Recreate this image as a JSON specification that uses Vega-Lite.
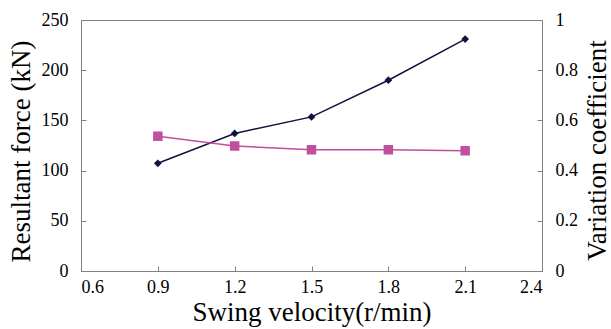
{
  "$schema": "https://vega.github.io/schema/vega-lite/v6.json",
  "autosize": {"type": "none"},
  "width": 461,
  "height": 251,
  "padding": {"left": 81, "top": 20, "right": 69, "bottom": 58},
  "background": "white",
  "config": {
    "font": "Liberation Serif",
    "view": {"stroke": "#808080", "strokeWidth": 1},
    "axis": {
      "domainColor": "#808080",
      "tickColor": "#808080",
      "labelColor": "black",
      "titleColor": "black",
      "labelFont": "Liberation Serif",
      "titleFont": "Liberation Serif",
      "labelFontSize": 18,
      "titleFontSize": 27,
      "titleFontWeight": "normal",
      "grid": false,
      "tickSize": -5
    }
  },
  "data": {
    "values": [
      {"v": 0.9, "force": 107.3, "cv": 0.537},
      {"v": 1.2, "force": 137, "cv": 0.498},
      {"v": 1.5, "force": 153.5, "cv": 0.483},
      {"v": 1.8, "force": 190, "cv": 0.483},
      {"v": 2.1, "force": 231, "cv": 0.479}
    ]
  },
  "encoding": {
    "x": {
      "field": "v", "type": "quantitative",
      "scale": {"domain": [0.6, 2.4], "nice": false, "zero": false},
      "axis": {"values": [0.6, 0.9, 1.2, 1.5, 1.8, 2.1, 2.4], "format": ".1f", "title": "Swing velocity(r/min)", "labelPadding": 12, "titleBaseline": "alphabetic", "titleY": 49}
    }
  },
  "layer": [
    {
      "mark": {"type": "line", "color": "#12123f", "strokeWidth": 1.5, "point": {"shape": "diamond", "size": 60, "filled": true, "color": "#12123f"}},
      "encoding": {
        "y": {
          "field": "force", "type": "quantitative",
          "scale": {"domain": [0, 250], "nice": false},
          "axis": {"values": [0, 50, 100, 150, 200, 250], "title": "Resultant force (kN)", "orient": "left", "labelPadding": 18, "titlePadding": 6, "titleY": 131}
        }
      }
    },
    {
      "mark": {"type": "line", "color": "#c0509f", "strokeWidth": 1.5, "point": {"shape": "square", "size": 90, "filled": true, "color": "#c0509f"}},
      "encoding": {
        "y": {
          "field": "cv", "type": "quantitative",
          "scale": {"domain": [0, 1], "nice": false},
          "axis": {"values": [0, 0.2, 0.4, 0.6, 0.8, 1], "format": "~g", "title": "Variation coefficient", "orient": "right", "titleAngle": -90, "titleBaseline": "alphabetic", "labelPadding": 18, "titleX": 63, "titleY": 130}
        }
      }
    }
  ],
  "resolve": {"scale": {"y": "independent"}}
}
